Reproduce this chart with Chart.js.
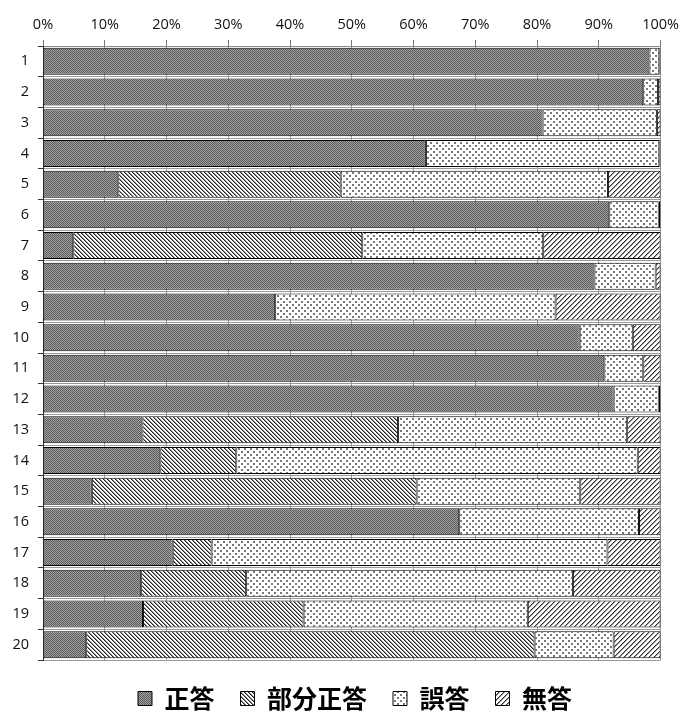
<!DOCTYPE html>
<html>
<head>
  <meta charset="utf-8">
  <title>設問別正答率</title>
  <script src="https://cdn.jsdelivr.net/npm/chart.js"></script>
  <style>
    html, body { margin: 0; padding: 0; background: #fff; }
    #wrap { position: relative; width: 685px; height: 712px; }
  </style>
</head>
<body>
  <div id="wrap"><canvas id="answer-chart"></canvas></div>

  <script>
    // 設問番号
    var questions = ["1", "2", "3", "4", "5", "6", "7", "8", "9", "10",
                     "11", "12", "13", "14", "15", "16", "17", "18", "19", "20"];

    // 割合 (%)
    var seitou   = [98.2, 97.2, 80.9, 62.0, 12.2, 91.7, 4.9, 89.3, 37.6, 86.9,
                    90.9, 92.4, 16.1, 19.0, 7.9, 67.4, 21.0, 15.9, 16.2, 7.0];
    var bubun    = [0, 0, 0, 0, 36.0, 0, 46.8, 0, 0, 0,
                    0, 0, 41.4, 12.3, 52.6, 0, 6.3, 17.0, 26.0, 72.6];
    var goutou   = [1.6, 2.4, 18.5, 37.8, 43.3, 8.0, 29.3, 9.9, 45.4, 8.6,
                    6.3, 7.3, 37.1, 65.0, 26.5, 29.1, 64.1, 52.9, 36.3, 12.8];
    var mutou    = [0.2, 0.4, 0.6, 0.2, 8.5, 0.3, 19.0, 0.8, 17.0, 4.5,
                    2.8, 0.3, 5.4, 3.7, 13.0, 3.5, 8.6, 14.2, 21.5, 7.6];

    var seriesNames = ["正答", "部分正答", "誤答", "無答"];
    var xTicks = [0, 10, 20, 30, 40, 50, 60, 70, 80, 90, 100];

    function makePattern(w, h, draw) {
      var c = document.createElement("canvas");
      c.width = w;
      c.height = h;
      var g = c.getContext("2d");
      g.fillStyle = "#fff";
      g.fillRect(0, 0, w, h);
      draw(g, w, h);
      return g.createPattern(c, "repeat");
    }

    // 正答: 細かい市松模様
    var patSeitou = makePattern(2, 2, function (g) {
      g.fillStyle = "#a0a0a0";
      g.fillRect(0, 0, 2, 2);
      g.fillStyle = "#5c5c5c";
      g.fillRect(0, 0, 1, 1);
      g.fillRect(1, 1, 1, 1);
    });

    // 部分正答: 右下がり斜線
    var patBubun = makePattern(4, 4, function (g, w, h) {
      for (var y = 0; y < h; y++) {
        for (var x = 0; x < w; x++) {
          var d = ((x - y) % 4 + 4) % 4;
          if (d === 0) { g.fillStyle = "#222"; g.fillRect(x, y, 1, 1); }
          else if (d === 1) { g.fillStyle = "#888"; g.fillRect(x, y, 1, 1); }
        }
      }
    });

    // 誤答: 点
    var patGoutou = makePattern(6, 6, function (g) {
      g.fillStyle = "#777";
      g.fillRect(1, 1, 2, 2);
      g.fillRect(4, 4, 2, 2);
    });

    // 無答: 右上がり斜線
    var patMutou = makePattern(5, 5, function (g, w, h) {
      for (var y = 0; y < h; y++) {
        for (var x = 0; x < w; x++) {
          var d = (x + y) % 5;
          if (d === 0) { g.fillStyle = "#333"; g.fillRect(x, y, 1, 1); }
          else if (d === 1) { g.fillStyle = "#999"; g.fillRect(x, y, 1, 1); }
        }
      }
    });

    // 凡例の高さと位置の調整
    var legendTweak = {
      id: "legendTweak",
      beforeLayout: function (chart) {
        var lg = chart.legend;
        if (lg && !lg._tweaked) {
          var fit = lg.fit;
          lg.fit = function () {
            fit.call(this);
            this.height = 52;
          };
          lg._tweaked = true;
        }
      },
      afterLayout: function (chart) {
        var lg = chart.legend;
        var shift = 355 - (lg.left + lg.right) / 2;
        lg.left += shift;
        lg.right += shift;
      }
    };

    var barStyle = {
      borderColor: "#000",
      borderWidth: 1,
      borderSkipped: false,
      barPercentage: 1.0,
      categoryPercentage: 0.88
    };

    var tickFont = { family: "'Open Sans', 'DejaVu Sans', sans-serif", size: 14.5 };

    var ctx = document.getElementById("answer-chart").getContext("2d");
    var answerChart = new Chart(ctx, {
      type: "bar",
      data: {
        labels: questions,
        datasets: [
          Object.assign({ label: seriesNames[0], data: seitou, backgroundColor: patSeitou }, barStyle),
          Object.assign({ label: seriesNames[1], data: bubun,  backgroundColor: patBubun }, barStyle),
          Object.assign({ label: seriesNames[2], data: goutou, backgroundColor: patGoutou }, barStyle),
          Object.assign({ label: seriesNames[3], data: mutou,  backgroundColor: patMutou }, barStyle)
        ]
      },
      options: {
        indexAxis: "y",
        responsive: true,
        maintainAspectRatio: false,
        animation: false,
        devicePixelRatio: 1,
        layout: { padding: { left: 0, right: 23, top: 0, bottom: 0 } },
        scales: {
          x: {
            position: "top",
            stacked: true,
            min: 0,
            max: 100,
            afterBuildTicks: function (scale) {
              scale.ticks = xTicks.map(function (v) { return { value: v }; });
            },
            afterFit: function (scale) { scale.height = 46; },
            ticks: {
              padding: 6,
              color: "#111",
              font: tickFont,
              callback: function (v) { return v + "%"; }
            },
            grid: {
              color: "#9a9a9a",
              tickColor: "#777",
              tickLength: 6,
              lineWidth: 1
            },
            border: { color: "#888" }
          },
          y: {
            stacked: true,
            afterFit: function (scale) { scale.width = 43; },
            ticks: {
              padding: 9,
              color: "#111",
              font: tickFont
            },
            grid: {
              offset: true,
              color: "#9a9a9a",
              tickColor: "#333",
              tickLength: 5
            },
            border: { color: "#333" }
          }
        },
        plugins: {
          legend: {
            position: "bottom",
            labels: {
              boxWidth: 14,
              boxHeight: 14,
              padding: 26,
              color: "#000",
              font: { family: "'Noto Sans CJK JP'", size: 25, weight: "bold" }
            }
          },
          tooltip: { enabled: false }
        }
      },
      plugins: [legendTweak]
    });
  </script>
</body>
</html>
